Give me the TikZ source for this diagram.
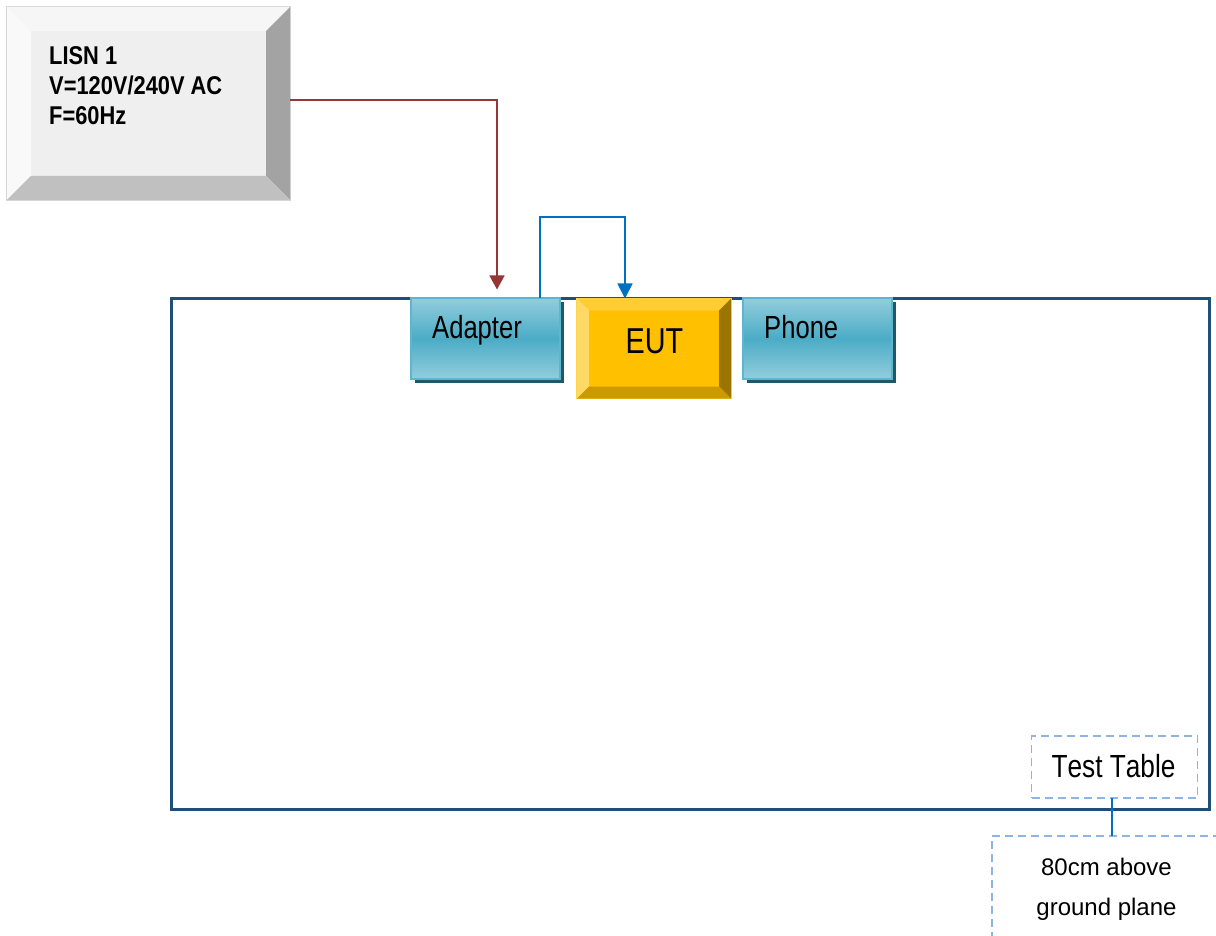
\documentclass[tikz,border=0pt]{standalone}
\usepackage{fontspec}
\newfontfamily\nf[FakeStretch=0.8]{Liberation Sans}
\newfontfamily\nfk[FakeStretch=0.82,Kerning=Off]{Liberation Sans}
\newfontfamily\nfl[FakeStretch=0.85]{Liberation Sans}
\newfontfamily\rf{Liberation Sans}
\usetikzlibrary{arrows.meta,calc,shadows}
\definecolor{tableblue}{HTML}{1F4E79}
\definecolor{lisnface}{HTML}{EFEFEF}
\definecolor{lisnedge}{HTML}{D6D6D6}
\definecolor{lisntop}{HTML}{F6F6F6}
\definecolor{lisnleft}{HTML}{F9F9F9}
\definecolor{lisnright}{HTML}{A3A3A3}
\definecolor{lisnbottom}{HTML}{C0C0C0}
\definecolor{eutface}{HTML}{FFC000}
\definecolor{eutedge}{HTML}{FFD54F}
\definecolor{euttop}{HTML}{FFCC33}
\definecolor{eutleft}{HTML}{FFD966}
\definecolor{eutright}{HTML}{9C7400}
\definecolor{eutbottom}{HTML}{CC9A00}
\definecolor{tealmid}{HTML}{4BACC6}
\definecolor{teallight}{HTML}{93CDDD}
\definecolor{tealedge}{HTML}{5CB6D0}
\definecolor{tealshadow}{HTML}{215867}
\definecolor{redline}{HTML}{953735}
\definecolor{blueline}{HTML}{0070C0}
\definecolor{dashblue}{HTML}{8EB4E3}
\newcommand\mybevel[6]{%
  \fill[#3] (#1.north west) -- (#1.north east) -- ($(#1.north east)+(-#2,#2)$) -- ($(#1.north west)+(#2,#2)$) -- cycle;
  \fill[#4] (#1.north west) -- ($(#1.north west)+(#2,#2)$) -- ($(#1.south west)+(#2,-#2)$) -- (#1.south west) -- cycle;
  \fill[#5] (#1.north east) -- (#1.south east) -- ($(#1.south east)+(-#2,-#2)$) -- ($(#1.north east)+(-#2,#2)$) -- cycle;
  \fill[#6] (#1.south west) -- (#1.south east) -- ($(#1.south east)+(-#2,-#2)$) -- ($(#1.south west)+(#2,-#2)$) -- cycle;
}
\tikzset{
  box/.style={inner sep=0, outer sep=0},
  tealbox/.style={box, draw=tealedge, line width=1.5pt, top color=teallight, bottom color=teallight, middle color=tealmid,
    minimum width=149, minimum height=81,
    drop shadow={shadow xshift=3.5pt, shadow yshift=-4pt, fill=tealshadow, opacity=1, draw=none}},
  dashbox/.style={box, draw=dashblue, line width=1.8pt, dash pattern=on 8pt off 5pt},
  redconn/.style={draw=redline, line width=1.6pt, -{Triangle[width=15pt,length=14pt]}},
  blueconn/.style={draw=blueline, line width=1.8pt, -{Triangle[width=15pt,length=15pt]}},
  lbl/.style={inner sep=0, font=\nf\fontsize{32}{36}\selectfont},
}
\begin{document}
\begin{tikzpicture}[x=1pt,y=-1pt]
\useasboundingbox (0,0) rectangle (1216,936);
\clip (0,0) rectangle (1216,936);
\fill[white] (0,0) rectangle (1216,936);
% test table
\node[box, draw=tableblue, line width=3pt, minimum width=1038, minimum height=511] (table) at (690,553.5) {};
% LISN
\node[box, fill=lisnface, draw=lisnedge, line width=1.2pt, minimum width=283, minimum height=193] (lisn) at (148.5,103.5) {};
\mybevel{lisn}{24}{lisntop}{lisnleft}{lisnright}{lisnbottom}
\node[anchor=north west, inner sep=0, align=left, font=\nfl\bfseries\fontsize{25.7}{30}\selectfont] (lisnlabel) at (49,46) {LISN 1\\V=120V/240V AC\\F=60Hz};
% Adapter, Phone
\node[tealbox] (adapter) at (485.5,338.5) {};
\node[lbl, anchor=base west] (adapterlabel) at (432,338) {Adapter};
\node[tealbox] (phone) at (817.5,338.5) {};
\node[lbl, anchor=base west] (phonelabel) at (764,338) {Phone};
% EUT
\node[box, fill=eutface, draw=eutedge, line width=1.5pt, minimum width=154, minimum height=100] (eut) at (654,348.5) {};
\mybevel{eut}{12}{euttop}{eutleft}{eutright}{eutbottom}
\node[inner sep=0, anchor=base, font=\nf\fontsize{36}{40}\selectfont] (eutlabel) at (654.5,353.5) {EUT};
% connectors
\draw[redconn, shorten >=8.5pt] ($(lisn.east)+(0,-3.5)$) -| ($(adapter.north)+(11.5,0)$);
\draw[blueconn] ($(adapter.north)+(54.5,0)$) -- ++(0,-81) -| ($(eut.north)+(-29,0)$);
% test table label
\node[dashbox, minimum width=166, minimum height=62] (testtable) at (1114.5,767) {};
\node[inner sep=0, anchor=base, font=\nfk\fontsize{32}{36}\selectfont] (testlabel) at (1113.5,777) {Test Table};
\node[dashbox, anchor=north west, minimum width=228, minimum height=124] (note) at (992,836) {};
\coordinate (ttfoot) at ($(testtable.south)+(-2.5,0)$);
\draw[draw=blueline, line width=1.8pt] (ttfoot) -- (ttfoot |- note.north);
\node[inner sep=0, align=center, font=\rf\fontsize{24}{40}\selectfont] (notetext) at (1106.5,889.7) {80cm above\\ground plane};
\end{tikzpicture}
\end{document}
